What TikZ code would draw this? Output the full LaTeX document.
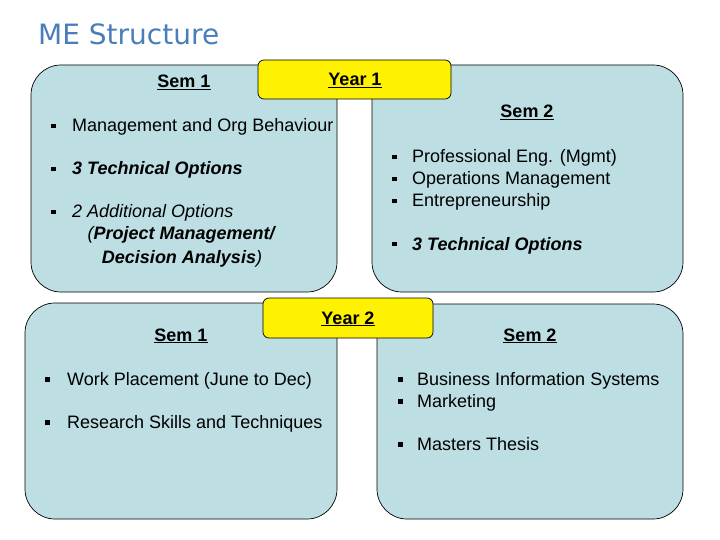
\documentclass[tikz,border=0pt]{standalone}
\usepackage{fontspec}
\setmainfont{Liberation Sans}
\newfontfamily\titlefont{DejaVu Sans}
\usepackage{tikz}

\definecolor{semblue}{RGB}{189,222,227}
\definecolor{titleblue}{RGB}{74,126,187}
\newcommand{\blt}{\rule[3.5pt]{4.8pt}{4.8pt}}
\newcommand{\semhead}[1]{\textbf{\underline{#1}}}

\begin{document}
\begin{tikzpicture}[x=1pt, y=-1pt]
      \tikzstyle{every node}=[font=\fontsize{18}{21.5}\selectfont]
      \tikzstyle{sem box}=[draw, fill=semblue, rounded corners=30pt, line width=0.7pt, inner sep=0pt]
      \tikzstyle{year box}=[draw, fill=yellow, rounded corners=6pt, line width=0.7pt, inner sep=0pt]
      \tikzstyle{head}=[anchor=base, inner sep=0pt]
      \tikzstyle{item}=[anchor=base west, inner sep=0pt]
      \useasboundingbox (0, 0) rectangle (720, 540);
      \node [anchor=base west, inner sep=0pt, font=\titlefont\fontsize{28}{32}\selectfont, text=titleblue] (title) at (38, 45) {ME Structure};
      % year 1
      \node [sem box, minimum width=306pt, minimum height=227pt] (y1s1) at (184, 178.5) {};
      \node [sem box, minimum width=311pt, minimum height=227pt] (y1s2) at (527.5, 178.5) {};
      \node [year box, minimum width=193pt, minimum height=39pt] (y1) at (354.5, 79.5) {};
      \node [head] (y1t) at (355, 86) {\semhead{Year 1}};
      \node [head] (y1s1h) at (184, 88) {\semhead{Sem 1}};
      \node [item] (b1) at (51, 132) {\blt};
      \node [item] (mob) at (72, 132) {Management and Org Behaviour};
      \node [item] (b2) at (51, 175) {\blt};
      \node [item] (tec1) at (72, 175) {\textit{\textbf{3 Technical Options}}};
      \node [item] (b3) at (51, 218) {\blt};
      \node [item] (add) at (72, 218) {\textit{2 Additional Options}};
      \node [head] (pm) at (182, 240) {\textit{(\textbf{Project Management/}}};
      \node [head] (da) at (182, 263) {\textit{\textbf{Decision Analysis})}};
      \node [head] (y1s2h) at (527, 118) {\semhead{Sem 2}};
      \node [item] (b4) at (392, 163) {\blt};
      \node [item] (pe) at (412, 163) {Professional Eng. (Mgmt)};
      \node [item] (b5) at (392, 185) {\blt};
      \node [item] (om) at (412, 185) {Operations Management};
      \node [item] (b6) at (392, 207) {\blt};
      \node [item] (ent) at (412, 207) {Entrepreneurship};
      \node [item] (b7) at (392, 250) {\blt};
      \node [item] (tec2) at (412, 250) {\textit{\textbf{3 Technical Options}}};
      % year 2
      \node [sem box, minimum width=312pt, minimum height=216pt] (y2s1) at (181, 411) {};
      \node [sem box, minimum width=306pt, minimum height=215pt] (y2s2) at (530, 411.5) {};
      \node [year box, minimum width=170pt, minimum height=40pt] (y2) at (348, 318) {};
      \node [head] (y2t) at (348, 324) {\semhead{Year 2}};
      \node [head] (y2s1h) at (181, 341) {\semhead{Sem 1}};
      \node [item] (b8) at (45, 385) {\blt};
      \node [item] (wp) at (67, 385) {Work Placement (June to Dec)};
      \node [item] (b9) at (45, 428) {\blt};
      \node [item] (rst) at (67, 428) {Research Skills and Techniques};
      \node [head] (y2s2h) at (530, 341) {\semhead{Sem 2}};
      \node [item] (b10) at (398, 385) {\blt};
      \node [item] (bis) at (417, 385) {Business Information Systems};
      \node [item] (b11) at (398, 407) {\blt};
      \node [item] (mkt) at (417, 407) {Marketing};
      \node [item] (b12) at (398, 450) {\blt};
      \node [item] (mt) at (417, 450) {Masters Thesis};
    \end{tikzpicture}
\end{document}
